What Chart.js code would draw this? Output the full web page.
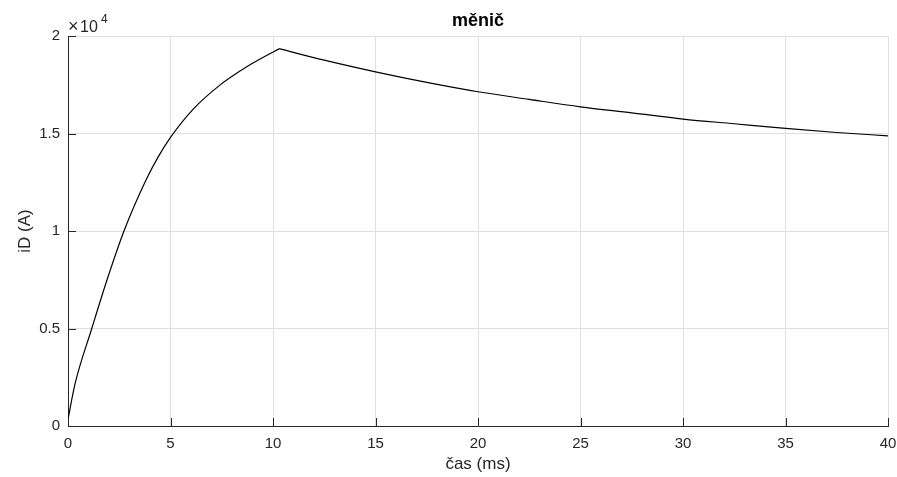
<!DOCTYPE html>
<html>

<head>
    <meta charset="UTF-8">
    <title>měnič</title>
    <style>
        body {
            margin: 0;
            background-color: #fff;
        }

        #chart-box {
            width: 897px;
            height: 477px;
        }
    </style>
</head>

<body>
    <div id="chart-box">
        <canvas id="chart"></canvas>
    </div>

    <script src="https://cdn.jsdelivr.net/npm/chart.js"></script>
    <script>
        // hodnoty
        const chartTitle = "měnič";
        const xLabel = "čas (ms)";
        const yLabel = "iD (A)";
        const timeMs = [0, 0.34, 1.16, 1.89, 2.75, 3.8, 4.4, 5.0, 6.11, 7.41, 8.72, 10.3,
            12.5, 15, 17.5, 20, 22.5, 25, 27.5, 30, 32.5, 35, 37.5, 40];
        const currentA = [350, 2150, 5000, 7450, 10050, 12600, 13800, 14800, 16250, 17480, 18420, 19350,
            18760, 18160, 17620, 17140, 16750, 16370, 16060, 15740, 15500, 15260, 15050, 14880];
        const xTicks = [0, 5, 10, 15, 20, 25, 30, 35, 40];
        const yTicks = [0, 5000, 10000, 15000, 20000];
        const yExponent = 4;

        const fontFamily = "'Liberation Sans', Arial, sans-serif";
        const axisColor = "#262626";

        // nárůst a pokles zvlášť, aby špička zůstala ostrá
        const points = timeMs.map((t, i) => ({ x: t, y: currentA[i] }));
        const peak = currentA.indexOf(Math.max(...currentA));

        // MATLAB vzhled: ticky dovnitř, nadpis nad osami, násobitel ×10^4
        const matlabLook = {
            id: "matlabLook",
            afterDraw(chart) {
                const { ctx, chartArea: a, scales: { x, y } } = chart;
                ctx.save();
                ctx.strokeStyle = axisColor;
                ctx.lineWidth = 1;
                ctx.beginPath();
                x.ticks.forEach(t => {
                    const px = Math.round(x.getPixelForValue(t.value)) + 0.5;
                    ctx.moveTo(px, a.bottom);
                    ctx.lineTo(px, a.bottom - 8);
                });
                y.ticks.forEach(t => {
                    const py = Math.round(y.getPixelForValue(t.value)) + 0.5;
                    ctx.moveTo(a.left, py);
                    ctx.lineTo(a.left + 8, py);
                });
                ctx.stroke();

                ctx.fillStyle = "#000";
                ctx.font = "bold 18px " + fontFamily;
                ctx.textAlign = "center";
                ctx.textBaseline = "alphabetic";
                ctx.fillText(chartTitle, (a.left + a.right) / 2, 26);

                ctx.fillStyle = axisColor;
                ctx.textAlign = "left";
                ctx.font = "18px " + fontFamily;
                ctx.fillText("×", a.left + 0, 32);
                ctx.font = "16px " + fontFamily;
                ctx.fillText("10", a.left + 12, 32);
                ctx.font = "12px " + fontFamily;
                ctx.fillText(String(yExponent), a.left + 33, 23);
                ctx.restore();
            }
        };

        const lineStyle = {
            borderColor: "#000",
            borderWidth: 1.2,
            pointRadius: 0,
            fill: false,
            cubicInterpolationMode: "monotone",
        };

        const ctx = document.querySelector("#chart").getContext("2d");
        const chart = new Chart(ctx, {
            type: "line",
            data: {
                datasets: [
                    { ...lineStyle, label: yLabel, data: points.slice(0, peak + 1) },
                    { ...lineStyle, label: yLabel, data: points.slice(peak) },
                ],
            },
            options: {
                responsive: true,
                maintainAspectRatio: false,
                animation: false,
                layout: {
                    padding: { top: 36, right: 0, left: 0, bottom: 0 },
                },
                plugins: {
                    legend: { display: false },
                    tooltip: { enabled: false },
                },
                scales: {
                    x: {
                        type: "linear",
                        min: 0,
                        max: 40,
                        afterBuildTicks: scale => {
                            scale.ticks = xTicks.map(v => ({ value: v }));
                        },
                        afterFit: scale => {
                            scale.height = 51;
                            scale.paddingLeft = 0;
                            scale.paddingRight = 9;
                        },
                        grid: { color: "#dfdfdf", drawTicks: false },
                        border: { color: axisColor, width: 1 },
                        ticks: {
                            color: axisColor,
                            padding: 9,
                            maxRotation: 0,
                            font: { family: fontFamily, size: 15 },
                        },
                        title: {
                            display: true,
                            text: xLabel,
                            color: axisColor,
                            padding: { top: 0, bottom: 2.6 },
                            font: { family: fontFamily, size: 17 },
                        },
                    },
                    y: {
                        min: 0,
                        max: 20000,
                        afterBuildTicks: scale => {
                            scale.ticks = yTicks.map(v => ({ value: v }));
                        },
                        afterFit: scale => {
                            scale.width = 68;
                        },
                        grid: { color: "#dfdfdf", drawTicks: false },
                        border: { color: axisColor, width: 1 },
                        ticks: {
                            color: axisColor,
                            padding: 8,
                            font: { family: fontFamily, size: 15 },
                            callback: v => String(v / Math.pow(10, yExponent)),
                        },
                        title: {
                            display: true,
                            text: yLabel,
                            color: axisColor,
                            padding: { top: 15.5, bottom: 0 },
                            font: { family: fontFamily, size: 17 },
                        },
                    },
                },
            },
            plugins: [matlabLook],
        });
    </script>
</body>

</html>
